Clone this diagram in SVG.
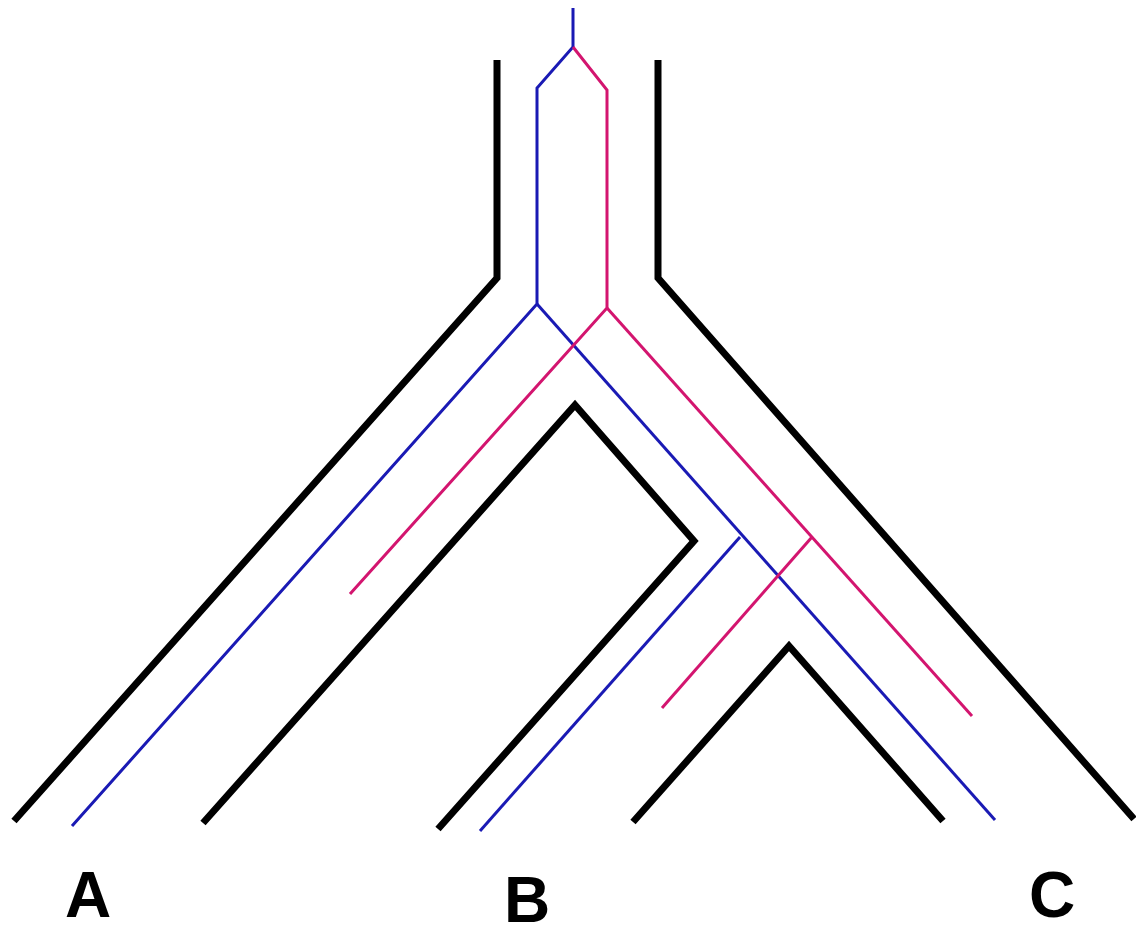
<svg xmlns="http://www.w3.org/2000/svg" width="1136" height="937" viewBox="0 0 1136 937">
  <style>
    .wall { fill: none; stroke: #000; stroke-width: 7; stroke-linejoin: miter; }
    .blue { fill: none; stroke: #1a1ab4; stroke-width: 3; stroke-linejoin: miter; }
    .pink { fill: none; stroke: #d3156f; stroke-width: 3; stroke-linejoin: miter; }
    .label { font-family: "Liberation Sans", Arial, sans-serif; font-weight: bold; font-size: 64px; fill: #000; text-anchor: middle; }
  </style>
  <rect width="1136" height="937" fill="#fff"/>

  <!-- outer and inner walls -->
  <g id="walls">
    <polyline class="wall" points="497,60 497,278 14,821"/>
    <polyline class="wall" points="658,60 658,278 1134,819"/>
    <polyline class="wall" points="203,823 575,405 694,541 438,829"/>
    <polyline class="wall" points="633,822 789,646 943,821"/>
  </g>

  <!-- branching lines -->
  <g id="connectors">
    <polyline class="blue" points="573,8 573,47 537,88 537,304 72,826"/>
    <polyline class="blue" points="537,304 995,820"/>
    <polyline class="blue" points="740,537 480,831"/>
    <polyline class="pink" points="573,47 607,90 607,308 350,594"/>
    <polyline class="pink" points="607,308 972,716"/>
    <polyline class="pink" points="812,537 662,708"/>
  </g>

  <g id="labels">
    <text class="label" x="88" y="917">A</text>
    <text class="label" x="527" y="922">B</text>
    <text class="label" x="1052" y="917">C</text>
  </g>
</svg>
